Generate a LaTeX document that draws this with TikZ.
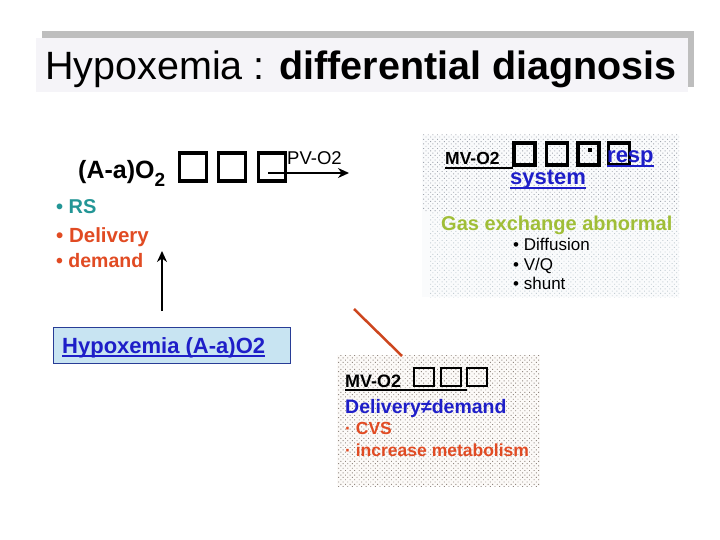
\documentclass[tikz,border=0pt]{standalone}
\usepackage{fontspec}
\setmainfont{Liberation Sans}
\usetikzlibrary{patterns,arrows.meta}

\newcommand{\fsz}[1]{\fontsize{#1}{#1}\selectfont}

% sparse stipple like the slide's dotted panels
\pgfdeclarepatternformonly{stipple}{\pgfqpoint{-1pt}{-1pt}}{\pgfqpoint{5pt}{5pt}}{\pgfqpoint{4.6pt}{4.6pt}}
{
  \pgfpathrectangle{\pgfqpoint{0pt}{0pt}}{\pgfqpoint{0.9pt}{0.9pt}}
  \pgfpathrectangle{\pgfqpoint{2.3pt}{2.3pt}}{\pgfqpoint{0.9pt}{0.9pt}}
  \pgfusepath{fill}
}

\definecolor{rscol}{RGB}{35,150,150}
\definecolor{delcol}{RGB}{225,75,35}
\definecolor{lnkcol}{RGB}{30,30,200}
\definecolor{gascol}{RGB}{160,190,55}
\definecolor{hypfill}{RGB}{200,228,242}
\definecolor{hypline}{RGB}{40,60,150}
\definecolor{titlefill}{RGB}{245,244,248}
\definecolor{shadowcol}{RGB}{190,190,190}
\definecolor{respbg}{RGB}{250,251,252}
\definecolor{respdot}{RGB}{160,165,175}
\definecolor{gasdot}{RGB}{195,205,212}
\definecolor{mvbg}{RGB}{252,250,248}
\definecolor{mvdot}{RGB}{145,135,128}
\definecolor{redline}{RGB}{205,70,30}

\begin{document}
\begin{tikzpicture}[x=1pt,y=-1pt]
\tikzstyle{txt} = [anchor=base west,inner sep=0pt]
\tikzstyle{tofu} = [draw,line width=3.5pt,minimum width=25pt,minimum height=26pt,inner sep=0pt]
\tikzstyle{tofuthin} = [draw,line width=1.6pt,minimum width=20pt,minimum height=18pt,inner sep=0pt]
\tikzstyle{uline} = [line width=1.5pt]
\tikzstyle{arr} = [line width=2.5pt,-{Stealth[length=11pt,width=10pt]}]

\useasboundingbox (0,0) rectangle (720,540);
\fill[white] (0,0) rectangle (720,540);

% title
\fill[shadowcol] (42,31) rectangle (694,87);
\node[fill=titlefill,minimum width=652pt,minimum height=54pt,inner sep=0pt] (titlebox) at (362,65) {};
\node[txt] (title) at (45,80) {\fsz{39.5}Hypoxemia : \textbf{differential diagnosis}};

% stippled panels
\fill[respbg] (422,135) rectangle (679,297);
\fill[pattern=stipple,pattern color=respdot] (422,135) rectangle (679,212);
\fill[pattern=stipple,pattern color=gasdot] (430,212) rectangle (679,297);
\fill[mvbg] (337,355) rectangle (540,486);
\fill[pattern=stipple,pattern color=mvdot] (337,355) rectangle (540,486);

% left part
\node[txt] (aa) at (78,179) {\fsz{25}\textbf{(A-a)O\raisebox{-8pt}{\fsz{19}2}}};
\foreach \x [count=\i] in {193,232,272} {
  \node[tofu,minimum width=27pt,minimum height=28pt] (ta\i) at (\x,167) {};
}
\node[txt] (pv) at (287,165) {\fsz{18.5}PV-O2};
\coordinate (pvtail) at (268,173);
\coordinate (pvhead) at (349,173);
\draw[arr] (pvtail) -- (pvhead);

\node[txt,text=rscol] (rs) at (56,214) {\fsz{20}\textbf{• RS}};
\node[txt,text=delcol] (del) at (56,243) {\fsz{20.5}\textbf{• Delivery}};
\node[txt,text=delcol] (dem) at (56,267) {\fsz{19.5}\textbf{• demand}};

\node[draw=hypline,fill=hypfill,line width=1pt,minimum width=237pt,minimum height=36pt,inner sep=0pt] (hypbox) at (171.5,345) {};
\node[txt,text=lnkcol] (hyp) at (62,353) {\fsz{22}\textbf{Hypoxemia (A-a)O2}};
\draw[uline,lnkcol] ([yshift=-3pt]hyp.base west) -- ([yshift=-3pt]hyp.base east);

\coordinate (vtail) at (162,311);
\coordinate (vhead) at (162,251);
\draw[arr] (vtail) -- (vhead);

% red connector
\coordinate (rtop) at (354,309);
\coordinate (rbot) at (402,356);
\draw[line width=2.5pt,redline] (rtop) -- (rbot);

% upper right panel
\foreach \x [count=\i] in {524.5,557,588.5,619} {
  \node[tofu,minimum width=21pt,minimum height=22pt] (tb\i) at (\x,154) {};
}
\node[fill=black,minimum size=3.5pt,inner sep=0pt] (tbdot) at (590,150) {};
\node[txt] (mvA) at (445,165) {\fsz{17.5}\textbf{MV-O2}};
\draw[uline] ([yshift=-3pt]mvA.base west) -- ++(68,0);
\node[txt,text=lnkcol] (resp) at (607,163) {\fsz{22}\textbf{resp}};
\draw[uline,lnkcol] ([yshift=-3pt]resp.base west) -- ([yshift=-3pt]resp.base east);
\node[txt,text=lnkcol] (sys) at (510,185) {\fsz{22}\textbf{system}};
\draw[uline,lnkcol] ([yshift=-3pt]sys.base west) -- ([yshift=-3pt]sys.base east);

\node[txt,text=gascol] (gas) at (441,230) {\fsz{20}\textbf{Gas exchange abnormal}};
\node[txt] (dif) at (513,251) {\fsz{17}• Diffusion};
\node[txt] (vq) at (513,270) {\fsz{17}• V/Q};
\node[txt] (sh) at (513,289) {\fsz{17}• shunt};

% lower panel
\node[txt] (mvB) at (345,387) {\fsz{18}\textbf{MV-O2}};
\draw[uline] ([yshift=-3pt]mvB.base west) -- (467,390);
\foreach \x [count=\i] in {424,451,477} {
  \node[tofuthin] (tc\i) at (\x,377) {};
}
\node[txt,text=lnkcol] (dd) at (345,413) {\fsz{19.5}\textbf{Delivery≠demand}};
\node[txt,text=delcol] (cvs) at (345,434) {\fsz{17.5}\textbf{· CVS}};
\node[txt,text=delcol] (met) at (345,456) {\fsz{17.5}\textbf{· increase metabolism}};
\end{tikzpicture}
\end{document}
